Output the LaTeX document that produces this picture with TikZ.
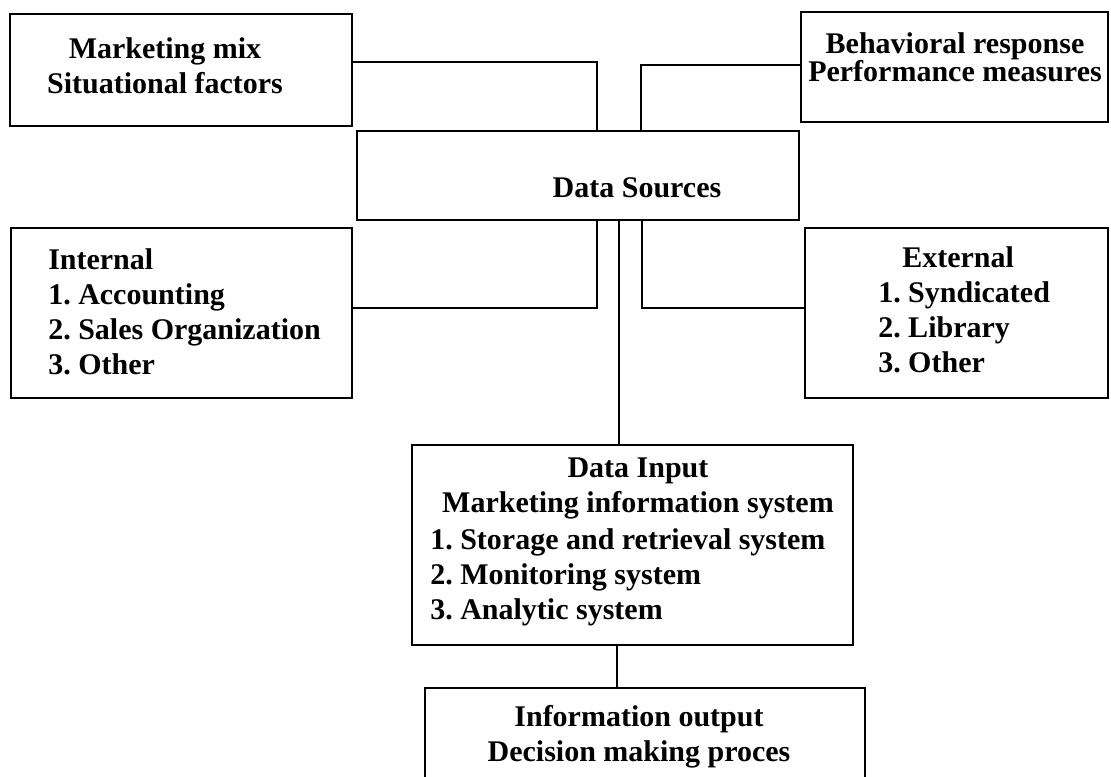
\documentclass[tikz,border=0pt]{standalone}
\usepackage{fontspec}
\setmainfont{Liberation Serif}
\begin{document}
\frenchspacing
\begin{tikzpicture}[x=0.75pt,y=-0.75pt,
  box/.style={draw,line width=1.6pt,inner sep=0pt},
  conn/.style={line width=1.6pt},
  txt/.style={inner sep=0pt,font=\fontsize{22.5}{26.25}\selectfont\bfseries},
  txtb/.style={inner sep=0pt,font=\fontsize{22.5}{21}\selectfont\bfseries}]
\useasboundingbox (0,0) rectangle (1111,777);
\fill[white] (0,0) rectangle (1111,777);
\clip (0,0) rectangle (1111,777);
% boxes
\node[box,minimum width=256.5pt,minimum height=84pt] (mm) at (181,70) {};
\node[box,minimum width=230.25pt,minimum height=82.5pt] (br) at (954.5,67) {};
\node[box,minimum width=331.5pt,minimum height=66.75pt] (ds) at (578,175.5) {};
\node[box,minimum width=255.75pt,minimum height=127.5pt] (int) at (181.5,313) {};
\node[box,minimum width=227.25pt,minimum height=127.5pt] (ext) at (956.5,313) {};
\node[box,minimum width=330.75pt,minimum height=150pt] (di) at (632.5,545) {};
\node[box,minimum width=330pt,minimum height=84pt] (io) at (645,744) {};
% texts
\node[txt,align=center,anchor=north] (mmt) at (165,37) {Marketing mix\\Situational factors};
\node[txtb,align=center,anchor=north] (brt) at (955,32) {Behavioral response\\Performance measures};
\node[txt,anchor=north] (dst) at (637,177) {Data Sources};
\node[txt,align=left,anchor=north west] (intt) at (48,248) {Internal\\1. Accounting\\2. Sales Organization\\3. Other};
\node[txt,align=left,anchor=north west] (extt) at (878,246) {\hspace*{18pt}External\\1. Syndicated\\2. Library\\3. Other};
\node[txt,align=center,anchor=north] (dih) at (638,458) {Data Input\\Marketing information system};
\node[txt,align=left,anchor=north west] (dil) at (430,528) {1. Storage and retrieval system\\2. Monitoring system\\3. Analytic system};
\node[txt,align=center,anchor=north] (iot) at (639,705) {Information output\\Decision making proces};
% connectors
\draw[conn] ([yshift=6pt]mm.east) -| ([xshift=14.25pt]ds.north);
\draw[conn] ([yshift=1.5pt]br.west) -| ([xshift=47.25pt]ds.north);
\draw[conn] ([yshift=3.75pt]int.east) -| ([xshift=14.25pt]ds.south);
\draw[conn] ([yshift=3.75pt]ext.west) -| ([xshift=48pt]ds.south);
\draw[conn] ([xshift=30.75pt]ds.south) -- ([xshift=30.75pt]ds.south |- di.north);
\draw[conn] ([xshift=-11.625pt]di.south) -- ([xshift=-11.625pt]di.south |- io.north);
\end{tikzpicture}
\end{document}
